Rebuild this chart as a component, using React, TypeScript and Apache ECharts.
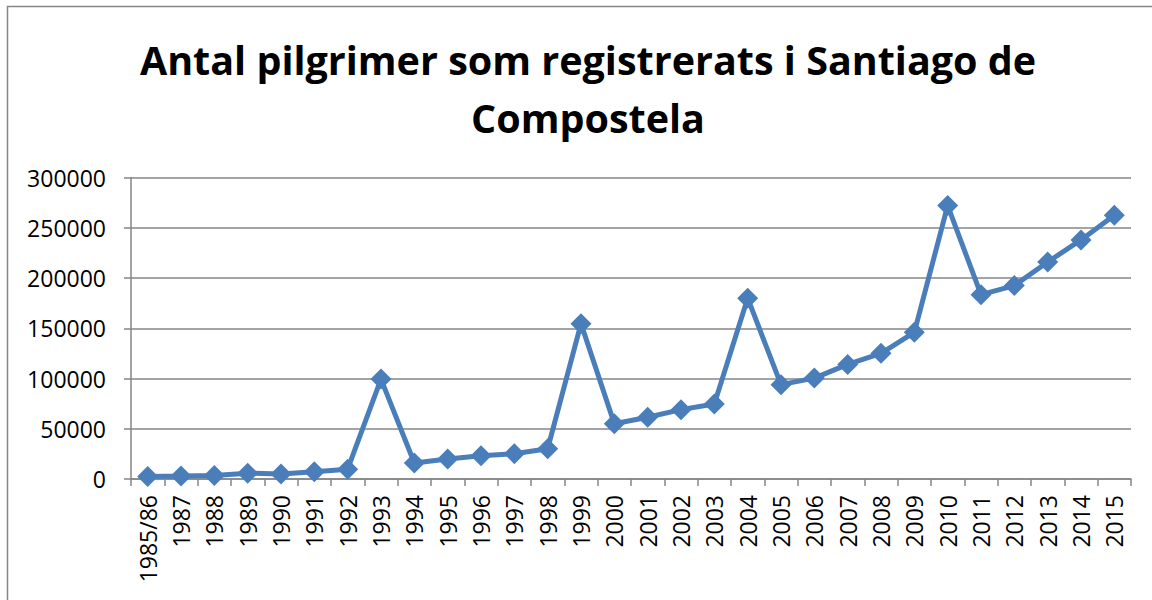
import React, { useEffect, useRef } from "react";
import * as echarts from "echarts";

const categories = [
  "1985/86", "1987", "1988", "1989", "1990", "1991", "1992", "1993", "1994", "1995",
  "1996", "1997", "1998", "1999", "2000", "2001", "2002", "2003", "2004", "2005",
  "2006", "2007", "2008", "2009", "2010", "2011", "2012", "2013", "2014", "2015",
];
const pilgrims = [
  2500, 2900, 3500, 5800, 4900, 7300, 9800, 99400, 15900, 19800,
  23200, 25200, 30100, 154600, 55000, 61400, 69000, 74600, 179900, 93900,
  100400, 114000, 125100, 145900, 272100, 183400, 192500, 215900, 237900, 262500,
];
const titleText = "Antal pilgrimer som registrerats i Santiago de\nCompostela";

export default function App() {
  const ref = useRef<HTMLDivElement>(null);
  useEffect(() => {
    if (!ref.current) return;
    const chart = echarts.init(ref.current, undefined, { renderer: "svg" });
    const gray = "#868686";
    const font = "'Open Sans', Calibri, sans-serif";
    chart.setOption({
      animation: false,
      backgroundColor: "#ffffff",
      title: {
        text: titleText,
        left: 583,
        textAlign: "center",
        top: 26,
        textStyle: {
          fontFamily: font,
          fontWeight: "bold",
          fontSize: 39.5,
          lineHeight: 58,
          color: "#000000",
        },
      },
      graphic: [
        {
          type: "rect",
          shape: { x: 7.5, y: 6.5, width: 1300, height: 800 },
          style: { fill: "none", stroke: gray, lineWidth: 1.5 },
          silent: true,
        },
      ],
      grid: { left: 131, right: 21, top: 177.5, bottom: 121 },
      xAxis: {
        type: "category",
        data: categories,
        boundaryGap: true,
        axisLine: { lineStyle: { color: gray, width: 1.5 } },
        axisTick: { show: true, length: 7, lineStyle: { color: gray, width: 1.5 } },
        axisLabel: {
          rotate: 90,
          interval: 0,
          margin: 16,
          color: "#000000",
          fontSize: 23,
          fontFamily: font,
        },
      },
      yAxis: {
        type: "value",
        min: 0,
        max: 300000,
        interval: 50000,
        axisLine: { show: true, lineStyle: { color: gray, width: 1.5 } },
        axisTick: { show: true, length: 7, lineStyle: { color: gray, width: 1.5 } },
        splitLine: { lineStyle: { color: gray, width: 1.5 } },
        axisLabel: {
          margin: 25,
          color: "#000000",
          fontSize: 23,
          fontFamily: font,
          formatter: (v: number) => String(v),
        },
      },
      series: [
        {
          type: "line",
          data: pilgrims,
          symbol: "diamond",
          symbolSize: 21,
          lineStyle: { color: "#4A7EBB", width: 5 },
          itemStyle: { color: "#4A7EBB" },
        },
      ],
    });
    return () => chart.dispose();
  }, []);
  return (
    <div
      ref={ref}
      style={{ position: "absolute", left: 0, top: 0, width: 1152, height: 600 }}
    />
  );
}
